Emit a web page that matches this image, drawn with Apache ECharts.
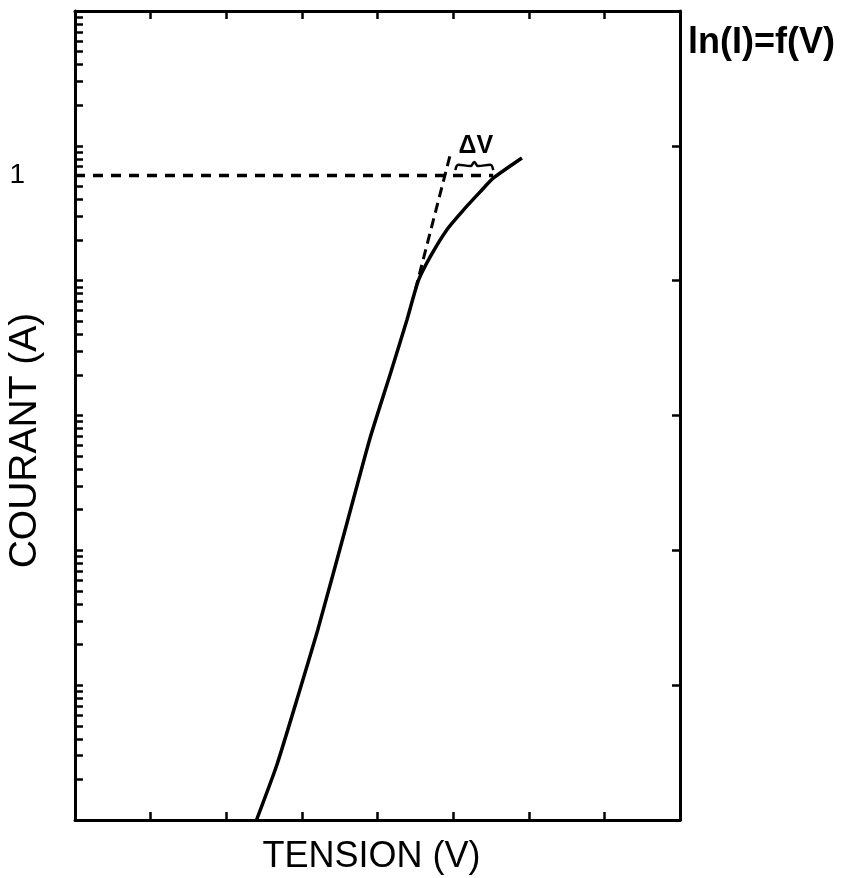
<!DOCTYPE html>
<html>
<head>
<meta charset="utf-8">
<script src="https://cdn.jsdelivr.net/npm/echarts@6/dist/echarts.min.js"></script>
<style>
  html, body { margin: 0; padding: 0; background: #fff; }
  #main { width: 847px; height: 878px; }
</style>
</head>
<body>
<div id="main"></div>
<script>
'use strict';

// axe des tensions : 8 graduations, sans valeurs
const tensionMin = 0;
const tensionMax = 8;

// axe des courants en log10(I), 6 décades
const logIMin = -4.78;
const logIMax = 1.22;
const decades = [-4.78, -3.78, -2.78, -1.78, -0.78, 0.22, 1.22];
const sousGraduations = [2, 3, 4, 5, 6, 7, 8, 9];
const etiquetteValeurs = [0];
const etiquetteTextes = ['1'];

// caractéristique ln(I) = f(V)
const courbeV = [2.40, 2.67, 2.96, 3.21, 3.60, 3.90, 4.17, 4.39, 4.54, 4.70, 4.92, 5.13, 5.36, 5.53, 5.91];
const courbeLogI = [-4.78, -4.37, -3.84, -3.37, -2.57, -1.95, -1.47, -1.07, -0.78, -0.60, -0.40, -0.26, -0.12, -0.02, 0.13];

// tangente prolongée
const tangenteV = [4.50, 4.96];
const tangenteLogI = [-0.85, 0.15];

// niveau I = 1
const niveauV = [0, 5.53];
const niveauLogI = [0, 0];

// accolade sous ΔV
const accoladeV = [5.03, 5.07, 5.23, 5.28, 5.33, 5.49, 5.53];
const accoladeLogI = [0.04, 0.08, 0.07, 0.10, 0.07, 0.08, 0.04];

const deltaV = [5.30, 0.22];

const zip = (a, b) => a.map((v, i) => [v, b[i]]);

let ticksGauche = [];
decades.forEach(function (d, i) {
  ticksGauche.push(d);
  if (i < decades.length - 1) {
    sousGraduations.forEach(function (k) { ticksGauche.push(d + Math.log10(k)); });
  }
});

const police = 'Liberation Sans, Arial, sans-serif';
const trait = { color: '#000', width: 3 };

const axeX = (pos) => ({
  type: 'value', position: pos, min: tensionMin, max: tensionMax, interval: 1,
  axisLine: { show: true, onZero: false, lineStyle: trait },
  axisTick: { show: true, inside: true, length: 8, lineStyle: { color: '#000', width: 2.5 } },
  axisLabel: { show: false },
  splitLine: { show: false }
});

let chart = echarts.init(document.getElementById('main'));
chart.setOption({
  backgroundColor: '#fff',
  animation: false,
  title: {
    text: 'ln(I)=f(V)', left: 683, top: 20,
    textStyle: { fontFamily: police, fontSize: 36, fontWeight: 'bold', color: '#000' }
  },
  grid: { left: 75, right: 167, top: 11, bottom: 58, containLabel: false, outerBoundsMode: 'none' },
  xAxis: [
    Object.assign(axeX('bottom'), {
      name: 'TENSION (V)', nameLocation: 'middle', nameGap: 19, nameMoveOverlap: false,
      nameTextStyle: { fontFamily: police, fontSize: 36, color: '#000', verticalAlign: 'top',
        padding: [0, 12, 0, 0] }
    }),
    axeX('top')
  ],
  yAxis: [
    {
      type: 'value', position: 'left', min: logIMin, max: logIMax, interval: 1,
      name: 'COURANT (A)', nameLocation: 'middle', nameGap: 30, nameRotate: 90,
      nameMoveOverlap: false,
      nameTextStyle: { fontFamily: police, fontSize: 39, color: '#000', verticalAlign: 'bottom',
        padding: [0, 50, 0, 0] },
      axisLine: { show: true, onZero: false, lineStyle: trait },
      axisTick: { show: true, inside: true, length: 8, customValues: ticksGauche,
        lineStyle: { color: '#000', width: 2.5 } },
      axisLabel: { show: true, customValues: etiquetteValeurs, margin: 50,
        formatter: (v) => etiquetteTextes[etiquetteValeurs.indexOf(Math.round(v))] || '',
        fontFamily: police, fontSize: 28, color: '#000' },
      splitLine: { show: false }
    },
    {
      type: 'value', position: 'right', min: logIMin, max: logIMax, interval: 1,
      axisLine: { show: true, onZero: false, lineStyle: trait },
      axisTick: { show: true, inside: true, length: 8, lineStyle: { color: '#000', width: 2.5 } },
      axisLabel: { show: false },
      splitLine: { show: false }
    }
  ],
  series: [
    {
      type: 'line', data: zip(niveauV, niveauLogI), symbol: 'none',
      lineStyle: { color: '#000', width: 3.5, type: [10, 8] }
    },
    {
      type: 'line', data: zip(tangenteV, tangenteLogI), symbol: 'none',
      lineStyle: { color: '#000', width: 3, type: [10, 6] }
    },
    {
      type: 'line', data: zip(courbeV, courbeLogI), symbol: 'none', smooth: 0.2,
      lineStyle: { color: '#000', width: 3.5 }
    },
    {
      type: 'line', data: zip(accoladeV, accoladeLogI), symbol: 'none', smooth: 0.4,
      lineStyle: { color: '#000', width: 2.5 }
    },
    {
      type: 'scatter', data: [deltaV], symbolSize: 1, itemStyle: { opacity: 0 },
      label: { show: true, position: 'inside', formatter: 'ΔV', opacity: 1,
        fontFamily: police, fontSize: 25, fontWeight: 'bold', color: '#000' }
    }
  ]
});
</script>
</body>
</html>
